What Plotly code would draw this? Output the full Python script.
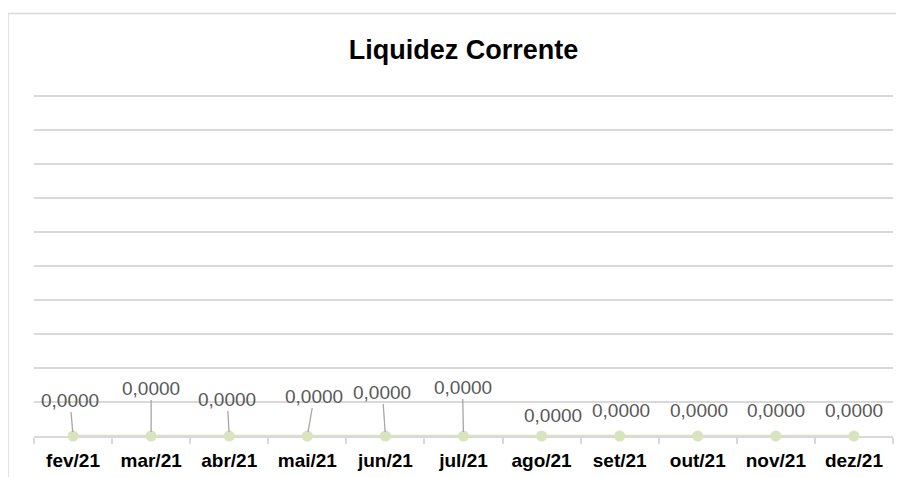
import plotly.graph_objects as go

months = ["fev/21", "mar/21", "abr/21", "mai/21", "jun/21", "jul/21",
          "ago/21", "set/21", "out/21", "nov/21", "dez/21"]
values = [0, 0, 0, 0, 0, 0, 0, 0, 0, 0, 0]
label_text = ["0,0000"] * 11

# label offsets (px) relative to the point: (dx, dy, leader line?)
label_offsets = [(-3, -36, True), (0, -48, True), (-2, -37, True), (7, -40, True),
                 (-3, -44, True), (-1, -49, True), (11, -21, False), (1, -26, False),
                 (1, -26, False), (0, -26, False), (0, -26, False)]

FONT = "Liberation Sans"
W, H = 896, 469          # page body has an 8px margin
YMAX = 10.1
PL, PR, PB = 26, 885, 428
PT = PB - (PB - 88) * YMAX / 10   # so that gridline 10 sits at 88px
pw, ph = PR - PL, PB - PT

fig = go.Figure()
fig.add_trace(go.Scatter(
    x=months, y=values, mode="lines+markers",
    line=dict(color="#d7e4bd", width=2.5),
    marker=dict(color="#d7e4bd", size=11),
    hoverinfo="skip", showlegend=False, cliponaxis=False,
))

annotations = []
for m, v, t, (dx, dy, leader) in zip(months, values, label_text, label_offsets):
    if leader:
        annotations.append(dict(
            x=m, y=v, xref="x", yref="y", text=t, showarrow=True,
            ax=dx, ay=dy, arrowhead=0, arrowwidth=1.3, arrowcolor="#a6a6a6",
            standoff=4, font=dict(family=FONT, size=19, color="#595959"),
        ))
    else:
        annotations.append(dict(
            x=m, y=v, xref="x", yref="y", text=t, showarrow=False,
            xshift=dx, yshift=-dy, yanchor="middle",
            font=dict(family=FONT, size=19, color="#595959"),
        ))

fig.update_layout(
    width=W, height=H,
    margin=dict(l=PL, r=W - PR, t=PT, b=H - PB, autoexpand=False),
    paper_bgcolor="white", plot_bgcolor="white",
    title=dict(text="<b>Liquidez Corrente</b>", x=0.5, xref="paper",
               y=1 - 42 / H, yref="container", yanchor="middle", xanchor="center",
               font=dict(family=FONT, size=27, color="#000000")),
    annotations=annotations,
    xaxis=dict(
        type="category", range=[-0.5, 10.5], showgrid=False, zeroline=False,
        showline=True, linecolor="#d9d9d9", linewidth=1.5, layer="below traces",
        ticks="outside", tickson="boundaries", ticklen=6, tickcolor="#d9d9d9",
        tickwidth=1.5, ticklabelstandoff=6, automargin=False,
        tickfont=dict(family=FONT, size=19, color="#000000"),
        tickprefix="<b>", ticksuffix="</b>",
    ),
    yaxis=dict(
        range=[0, YMAX], dtick=1, showgrid=True, gridcolor="#d9d9d9", gridwidth=1.5,
        zeroline=False, showticklabels=False, showline=False, fixedrange=True,
        layer="below traces", automargin=False,
    ),
    shapes=[dict(type="rect", xref="paper", yref="paper",
                 x0=(0 - PL) / pw, x1=(895 - PL) / pw,
                 y0=(PB - 480) / ph, y1=(PB - 5) / ph,
                 line=dict(color="#d9d9d9", width=1.5), layer="below")],
)

fig.write_html("out.html")
